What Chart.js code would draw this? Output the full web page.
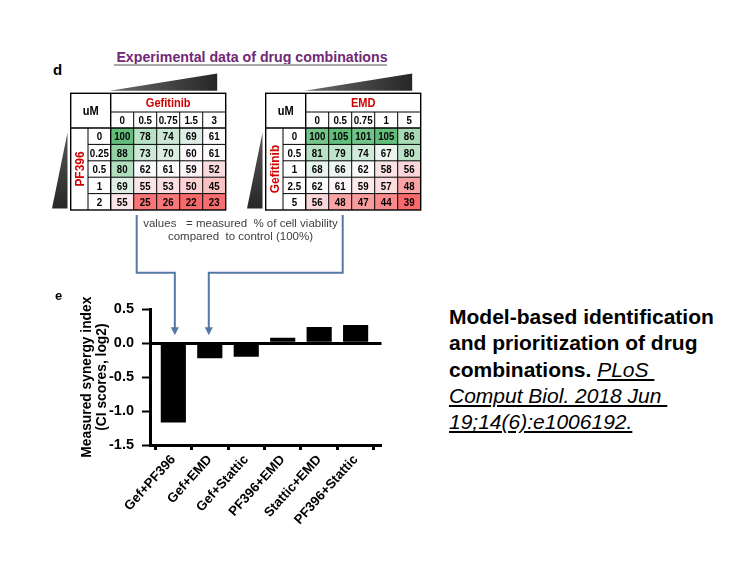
<!DOCTYPE html>
<html><head><meta charset="utf-8">
<script src="https://cdn.jsdelivr.net/npm/chart.js@4.4.0/dist/chart.umd.min.js"></script>
<style>
body{margin:0;background:#fff;}
#wrap{position:relative;width:756px;height:567px;overflow:hidden;font-family:"Liberation Sans",Arial,sans-serif;background:#fff;}
canvas{position:absolute;}
.abs{position:absolute;white-space:pre;}
.cit u{text-decoration:underline;font-style:italic;font-weight:normal;}
</style></head><body><div id="wrap">
<div class="abs" style="left:53px;top:62px;font-weight:bold;font-size:15px;line-height:15px;">d</div>
<div class="abs" style="left:112px;top:49px;width:280px;text-align:center;font-weight:bold;font-size:14.2px;line-height:16px;color:#702877;">Experimental data of drug combinations</div>
<div style="position:absolute;left:114px;top:64px;width:273px;height:1.5px;background:#a8a8a8"></div>
<canvas id="t1" width="190" height="150" style="left:45px;top:68px;"></canvas>
<canvas id="t2" width="190" height="150" style="left:240px;top:68px;"></canvas>
<div class="abs" style="left:130px;top:216.6px;width:221px;text-align:center;font-size:11.5px;line-height:13.4px;color:#404040;">values   = measured  % of cell viability
compared  to control (100%)</div>
<canvas id="bars" width="360" height="345" style="left:40px;top:200px;"></canvas>
<div class="abs" style="left:55px;top:289px;font-weight:bold;font-size:13px;line-height:13px;">e</div>
<div class="abs cit" style="left:449px;top:303.8px;font-weight:bold;font-size:21px;line-height:26.4px;color:#000;">Model-based identification
and prioritization of drug
combinations. <u>PLoS </u>
<u>Comput Biol. 2018 Jun </u>
<u>19;14(6):e1006192.</u></div>
</div>
<script>
// ---- data ----
const gefDoses = ['0','0.5','0.75','1.5','3'];
const pf396Doses = ['0','0.25','0.5','1','2'];
const gefPf396Viability = [
  [100,78,74,69,61],
  [88,73,70,60,61],
  [80,62,61,59,52],
  [69,55,53,50,45],
  [55,25,26,22,23]
];
const emdDoses = ['0','0.5','0.75','1','5'];
const gefDosesRows = ['0','0.5','1','2.5','5'];
const gefEmdViability = [
  [100,105,101,105,86],
  [81,79,74,67,80],
  [68,66,62,58,56],
  [62,61,59,57,48],
  [56,48,47,44,39]
];
const combos = ['Gef+PF396','Gef+EMD','Gef+Stattic','PF396+EMD','Stattic+EMD','PF396+Stattic'];
const synergy = [-1.17,-0.22,-0.20,0.08,0.24,0.27];

Chart.defaults.font.family = '"Liberation Sans", Arial, sans-serif';
const FONT = '"Liberation Sans", Arial, sans-serif';

function lerp(a,b,t){return a.map((v,i)=>Math.round(v+(b[i]-v)*t));}
function scaleColor(v,min,mid,max){
  const R=[248,105,107],W=[252,252,255],G=[99,190,123];
  const c = v<=mid ? lerp(R,W,(v-min)/(mid-min)) : lerp(W,G,(v-mid)/(max-mid));
  return 'rgb('+c.join(',')+')';
}

function makeTable(id, colDrug, colDoses, rowDrug, rowDoses, vals){
  const flat = vals.flat().slice().sort((a,b)=>a-b);
  const min=flat[0], max=flat[flat.length-1], mid=flat[Math.floor(flat.length/2)];
  const datasets = vals.map((row,r)=>({
    label: rowDoses[r], data: row.map(()=>1), values: row,
    backgroundColor: row.map(v=>scaleColor(v,min,mid,max)),
    borderWidth:0, barPercentage:1, categoryPercentage:1
  }));
  const tbl = {
    id:'tbl',
    afterDatasetsDraw(chart){
      const {ctx, chartArea:ca, scales:{x,y}} = chart;
      const L1 = ca.left-40, L2 = ca.left-22.7, T1 = ca.top-34.7, T2 = ca.top-16;
      ctx.save();
      // wedges (dose increase indicators)
      let g = ctx.createLinearGradient(ca.left, 0, ca.left+106.5, 0);
      g.addColorStop(0,'#6a6a6a'); g.addColorStop(1,'#262626');
      ctx.fillStyle=g; ctx.beginPath();
      ctx.moveTo(ca.left-1, ca.top-37.3); ctx.lineTo(ca.left+106.5, ca.top-54.5); ctx.lineTo(ca.left+106.5, ca.top-37.3); ctx.closePath(); ctx.fill();
      g = ctx.createLinearGradient(0, ca.top, 0, ca.bottom);
      g.addColorStop(0,'#5a5a5a'); g.addColorStop(1,'#262626');
      ctx.fillStyle=g; ctx.beginPath();
      ctx.moveTo(ca.left-58.7, ca.bottom-1.5); ctx.lineTo(ca.left-43.2, ca.top+4.5); ctx.lineTo(ca.left-43.2, ca.bottom-1.5); ctx.closePath(); ctx.fill();
      // grid lines
      ctx.strokeStyle='#000'; ctx.lineWidth=1;
      const line=(x1,y1,x2,y2)=>{ctx.beginPath();ctx.moveTo(x1,y1);ctx.lineTo(x2,y2);ctx.stroke();};
      for(let c=1;c<colDoses.length;c++){
        const bx=(x.getPixelForValue(c-1)+x.getPixelForValue(c))/2;
        line(bx,T2,bx,ca.bottom);
      }
      for(let r=1;r<rowDoses.length;r++){
        const by=y.getPixelForValue(r);
        line(L2,by,ca.right,by);
      }
      line(ca.left,T2,ca.right,T2);
      line(L2,ca.top,L2,ca.bottom);
      ctx.lineWidth=1.4;
      line(ca.left,T1,ca.left,ca.bottom);
      line(L1,ca.top,ca.right,ca.top);
      ctx.strokeRect(L1,T1,ca.right-L1,ca.bottom-T1);
      // text
      const txt=(s,cx,cy,size,color,rot,sx)=>{
        ctx.save(); ctx.translate(cx,cy); if(rot) ctx.rotate(rot); ctx.scale(sx,1);
        ctx.font='bold '+size+'px '+FONT; ctx.fillStyle=color;
        ctx.textAlign='center'; ctx.textBaseline='alphabetic';
        ctx.fillText(s,0,size*0.36); ctx.restore();
      };
      txt('uM',(L1+ca.left)/2,(T1+ca.top)/2,13,'#000',0,0.85);
      txt(colDrug,(ca.left+ca.right)/2,(T1+T2)/2,13,'#d00000',0,0.85);
      colDoses.forEach((d,c)=>txt(d,x.getPixelForValue(c),(T2+ca.top)/2,11.5,'#000',0,0.85));
      rowDoses.forEach((d,r)=>txt(d,(L2+ca.left)/2,y.getPixelForValue(r+0.5),11.5,'#000',0,0.85));
      txt(rowDrug,(L1+L2)/2,(ca.top+ca.bottom)/2,13,'#d00000',-Math.PI/2,0.92);
      chart.data.datasets.forEach((ds,r)=>{
        ds.values.forEach((v,c)=>txt(String(v),x.getPixelForValue(c),y.getPixelForValue(r+0.5),11.8,'#000',0,0.82));
      });
      ctx.restore();
    }
  };
  new Chart(document.getElementById(id), {
    type:'bar',
    data:{labels: colDoses, datasets},
    options:{responsive:false, animation:false, events:[],
      layout:{padding:{left:65.7, top:60, right:9.3, bottom:8}},
      plugins:{legend:{display:false}, tooltip:{enabled:false}},
      scales:{x:{display:false, stacked:true}, y:{display:false, stacked:true, min:0, max:5, reverse:true}}
    },
    plugins:[tbl]
  });
}

makeTable('t1','Gefitinib',gefDoses,'PF396',pf396Doses,gefPf396Viability);
makeTable('t2','EMD',emdDoses,'Gefitinib',gefDosesRows,gefEmdViability);

const arrows = {
  id:'arrows',
  afterDraw(chart){
    const {ctx, scales:{x,y}} = chart;
    const tip = y.getPixelForValue(0) - 8;
    const xa = x.getPixelForValue(0)+1.5, xb = x.getPixelForValue(1)-1;
    ctx.save();
    ctx.strokeStyle='#5479a6'; ctx.fillStyle='#5479a6'; ctx.lineWidth=2;
    const path=(sx,tx)=>{
      ctx.beginPath(); ctx.moveTo(sx,15); ctx.lineTo(sx,72.7); ctx.lineTo(tx,72.7); ctx.lineTo(tx,tip-6); ctx.stroke();
      ctx.beginPath(); ctx.moveTo(tx-4,tip-8); ctx.lineTo(tx+4,tip-8); ctx.lineTo(tx,tip); ctx.closePath(); ctx.fill();
    };
    path(96.7, xa);
    path(302.7, xb);
    ctx.restore();
  }
};

new Chart(document.getElementById('bars'), {
  type:'bar',
  data:{datasets:[{
    data: combos.map((c,i)=>({x:i,y:synergy[i]})),
    backgroundColor:'#000', borderWidth:0, barPercentage:0.69, categoryPercentage:1
  }]},
  options:{responsive:false, animation:false, events:[],
    layout:{padding:{left:0, top:109.3, right:18.5, bottom:0}},
    plugins:{legend:{display:false}, tooltip:{enabled:false}},
    scales:{
      x:{type:'linear', min:-0.64, max:5.71, bounds:'data', offset:false,
        afterBuildTicks: s=>{ s.ticks = combos.map((c,i)=>({value:i})); },
        afterFit: s=>{ s.height = 100; },
        ticks:{autoSkip:false, minRotation:48, maxRotation:48, callback:(v)=>combos[v],
          font:{weight:'bold', size:13.3}, color:'#000', padding:2},
        grid:{drawOnChartArea:false, drawTicks:true, tickLength:5, tickColor:'#000', tickWidth:3},
        border:{color:'#000', width:3}
      },
      y:{min:-1.5, max:0.5,
        afterFit: s=>{ s.width = 110; },
        ticks:{stepSize:0.5, callback:v=>Number(v).toFixed(1), font:{weight:'bold', size:14.5}, color:'#000', padding:8},
        grid:{color:c=>(c.tick && c.tick.value===0)?'#000':'rgba(0,0,0,0)',
              lineWidth:c=>(c.tick && c.tick.value===0)?3:1,
              tickColor:'#000', tickWidth:2, tickLength:8, drawTicks:true},
        border:{color:'#000', width:3},
        title:{display:true, text:['Measured synergy index','(CI scores, log2)'],
          font:{weight:'bold', size:13.8, lineHeight:1.08}, color:'#000', padding:{top:39.5, bottom:0}}
      }
    }
  },
  plugins:[arrows]
});
</script>
</body></html>
